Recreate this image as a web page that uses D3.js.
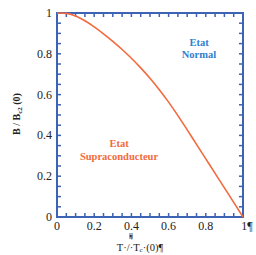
<!DOCTYPE html>
<html><head><meta charset="utf-8">
<script src="https://cdn.jsdelivr.net/npm/d3@7"></script>
<style>body{margin:0;background:#fff}svg{display:block}</style>
</head><body>
<script>
const tValues = [0,0.05,0.1,0.15,0.2,0.25,0.3,0.35,0.4,0.45,0.5,0.55,0.6,0.65,0.7,0.75,0.8,0.85,0.9,0.95,1];
const bValues = [1,0.998,0.985,0.962,0.932,0.898,0.861,0.821,0.778,0.731,0.68,0.624,0.563,0.497,0.427,0.356,0.285,0.214,0.143,0.072,0];
const xTickLabels = ["0","0.2","0.4","0.6","0.8","1¶"];
const yTickLabels = ["0","0.2","0.4","0.6","0.8","1"];
const labelTicks = [0,0.2,0.4,0.6,0.8,1];

const W=256,H=255;
const serif="'Liberation Serif','Times New Roman',serif";
const svg=d3.select("body").append("svg").attr("width",W).attr("height",H);
const x=d3.scaleLinear().domain([0,1]).range([57,243]);
const y=d3.scaleLinear().domain([0,1]).range([217,13]);
const blue="#3d63b4", orange="#f26a3e";
const minor=d3.range(0,1.0001,0.05);

const tl=4;
const tk=(g)=>g.attr("stroke",blue).attr("stroke-width",1.5);
svg.append("g").selectAll("line").data(minor).join("line")
 .attr("x1",d=>x(d)).attr("x2",d=>x(d)).attr("y1",217).attr("y2",217-tl).call(tk);
svg.append("g").selectAll("line").data(minor).join("line")
 .attr("x1",d=>x(d)).attr("x2",d=>x(d)).attr("y1",13).attr("y2",13+tl).call(tk);
svg.append("g").selectAll("line").data(minor).join("line")
 .attr("y1",d=>y(d)).attr("y2",d=>y(d)).attr("x1",57).attr("x2",57+tl).call(tk);
svg.append("g").selectAll("line").data(minor).join("line")
 .attr("y1",d=>y(d)).attr("y2",d=>y(d)).attr("x1",243).attr("x2",243-tl).call(tk);

svg.append("rect").attr("x",57).attr("y",13).attr("width",186).attr("height",204)
 .attr("fill","none").attr("stroke",blue).attr("stroke-width",2);

svg.append("g").selectAll("text").data(labelTicks).join("text")
 .attr("x",d=>x(d)).attr("y",230).attr("text-anchor","middle")
 .attr("font-family",serif).attr("font-size",12).attr("fill","#222")
 .attr("dx",(d,i)=>i===5?4:0).text((d,i)=>xTickLabels[i]);
svg.append("g").selectAll("text").data(labelTicks).join("text")
 .attr("x",52).attr("y",d=>y(d)+4).attr("text-anchor","end")
 .attr("font-family",serif).attr("font-size",12).attr("fill","#222")
 .text((d,i)=>yTickLabels[i]);

const line=d3.line().x((d,i)=>x(tValues[i])).y(d=>y(d)).curve(d3.curveMonotoneX);
svg.append("path").datum(bValues).attr("d",line).attr("fill","none")
 .attr("stroke",orange).attr("stroke-width",1.6);

const n=svg.append("text").attr("text-anchor","middle").attr("font-family",serif)
 .attr("font-weight","bold").attr("font-size",10.5).attr("fill","#2f7fd0");
n.append("tspan").attr("x",199).attr("y",46).text("Etat");
n.append("tspan").attr("x",199).attr("y",58).text("Normal");
const s=svg.append("text").attr("text-anchor","middle").attr("font-family",serif)
 .attr("font-weight","bold").attr("font-size",10.5).attr("fill",orange);
s.append("tspan").attr("x",119).attr("y",147).text("Etat");
s.append("tspan").attr("x",119).attr("y",159.5).text("Supraconducteur");

const yl=svg.append("text").attr("transform","translate(20,114) rotate(-90)")
 .attr("text-anchor","middle").attr("font-family",serif)
 .attr("font-weight","bold").attr("font-size",10).attr("fill","#222");
yl.append("tspan").text("B / B");
yl.append("tspan").attr("font-size",7).attr("dy",2).text("c2");
yl.append("tspan").attr("dy",-2).text(" (0)");

svg.append("rect").attr("x",129).attr("y",233).attr("width",4).attr("height",6).attr("fill","#9fb4d8");
svg.append("text").attr("x",131).attr("y",238.5).attr("text-anchor","middle")
 .attr("font-family",serif).attr("font-size",6).attr("fill","#222").text("¶");
const xl=svg.append("text").attr("x",140).attr("y",250.5).attr("text-anchor","middle")
 .attr("font-family",serif).attr("font-size",10.5).attr("fill","#222");
xl.append("tspan").text("T·/·T");
xl.append("tspan").attr("font-size",7).attr("dy",1).text("c");
xl.append("tspan").attr("dy",-1).text("·(0)¶");
</script>
</body></html>
